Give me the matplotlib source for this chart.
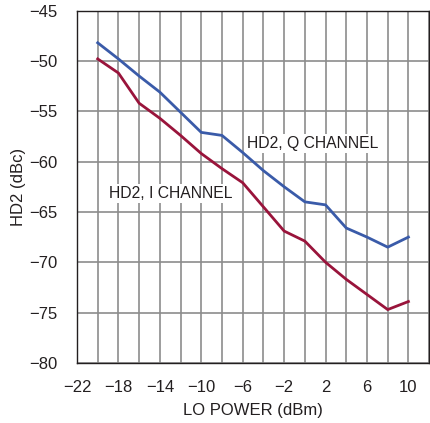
import numpy as np
import matplotlib
matplotlib.use("Agg")
import matplotlib.pyplot as plt

plt.rcParams['font.family'] = ['Liberation Sans', 'DejaVu Sans']

lo_power = [-20, -18, -16, -14, -12, -10, -8, -6, -4, -2, 0, 2, 4, 6, 8, 10]
hd2_q = [-48.2, -49.8, -51.5, -53.1, -55.1, -57.1, -57.4, -59.1, -60.9, -62.5,
         -64.0, -64.3, -66.6, -67.5, -68.5, -67.5]
hd2_i = [-49.8, -51.2, -54.2, -55.7, -57.4, -59.2, -60.7, -62.1, -64.5, -66.9,
         -67.9, -70.0, -71.7, -73.2, -74.7, -73.9]

x_ticks = [-22, -18, -14, -10, -6, -2, 2, 6, 10]
y_ticks = [-80, -75, -70, -65, -60, -55, -50, -45]

fig = plt.figure(figsize=(4.3, 4.23), dpi=100)
ax = fig.add_axes([0.179, 0.142, 0.819, 0.833])

ax.plot(lo_power, hd2_q, color='#3a5ba9', lw=2.0, zorder=3)
ax.plot(lo_power, hd2_i, color='#99143b', lw=2.0, zorder=3)

ax.set_xlim(-22, 12)
ax.set_ylim(-80, -45)
ax.set_xticks(x_ticks)
ax.set_yticks(y_ticks)
ax.set_xticklabels([str(t).replace('-', '\u2212') for t in x_ticks])
ax.set_yticklabels([str(t).replace('-', '\u2212') for t in y_ticks])
ax.set_xticks(np.arange(-22, 13, 2), minor=True)
ax.grid(True, which='both', axis='x', color='#8c8c8c', lw=1.2)
ax.grid(True, which='major', axis='y', color='#8c8c8c', lw=1.2)
ax.tick_params(which='both', length=0, labelsize=12, colors='#231f20')
ax.tick_params(axis='x', pad=12)
ax.tick_params(axis='y', pad=14)
for s in ax.spines.values():
    s.set_color('#231f20')
    s.set_linewidth(1.0)

ax.set_xlabel('LO POWER (dBm)', fontsize=12, color='#231f20', labelpad=6)
ax.set_ylabel('HD2 (dBc)', fontsize=12, color='#231f20', labelpad=2)

ax.text(-5.55, -58.2, 'HD2, Q CHANNEL', fontsize=11.3, color='#231f20', va='center',
        bbox=dict(facecolor='white', edgecolor='none', pad=1.5), zorder=4)
ax.text(-18.9, -63.2, 'HD2, I CHANNEL', fontsize=11.3, color='#231f20', va='center',
        bbox=dict(facecolor='white', edgecolor='none', pad=1.5), zorder=4)

fig.savefig('out.png', dpi=100)
